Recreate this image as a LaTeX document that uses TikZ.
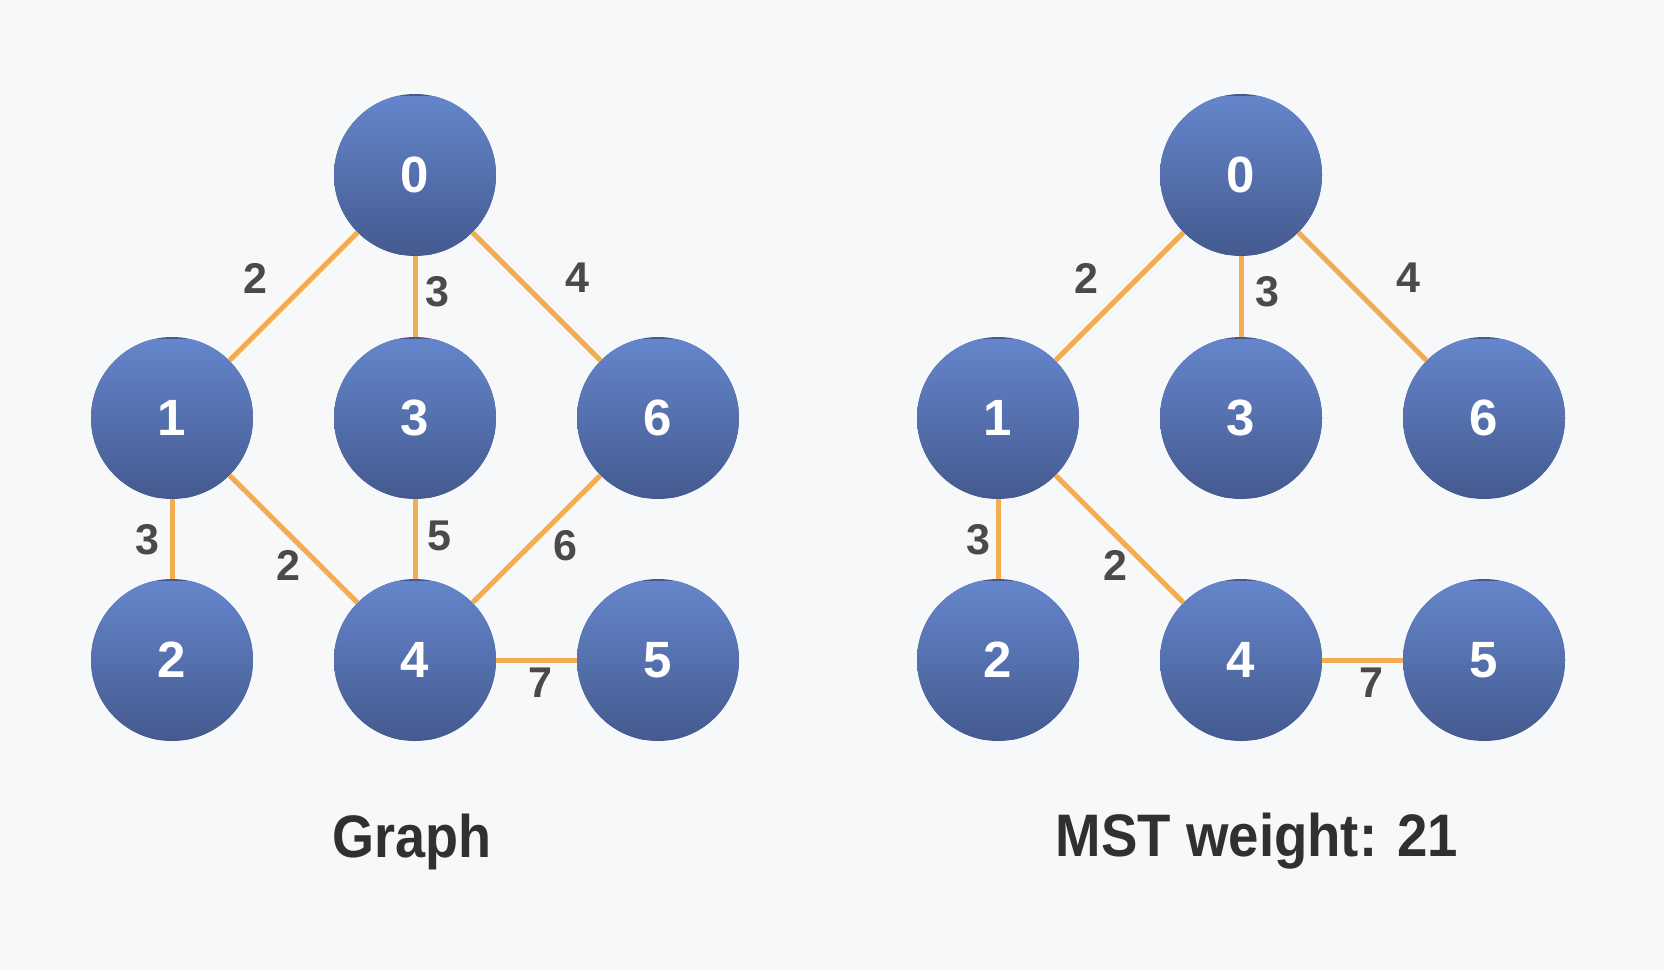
\documentclass[tikz,border=0pt]{standalone}
\usepackage{fontspec}
\setmainfont{Liberation Sans}
\definecolor{bgc}{HTML}{F7F8FA}
\definecolor{ntop}{HTML}{6586CC}
\definecolor{nbot}{HTML}{445A8F}
\definecolor{edgec}{HTML}{F5AC50}
\definecolor{wlab}{HTML}{4A4A4A}
\definecolor{titc}{HTML}{303030}
\tikzset{
  gnode/.style={circle, minimum size=162pt, inner sep=0pt, fill=nbot,
    path picture={\shade[top color=ntop, bottom color=nbot]
      ([shift={(-2pt,2pt)}]path picture bounding box.south west) rectangle
      ([shift={(2pt,-2pt)}]path picture bounding box.north east);},
    text=white, font=\fontsize{51}{60}\selectfont\bfseries},
  gedge/.style={draw=edgec, line width=5pt},
  wlabel/.style={inner sep=0pt, text=wlab, font=\fontsize{43}{50}\selectfont\bfseries},
  ttl/.style={inner sep=0pt, anchor=base, text=titc, font=\fontsize{60}{70}\selectfont\bfseries}
}
\begin{document}
\begin{tikzpicture}[x=1pt,y=-1pt]
\fill[bgc] (0,0) rectangle (1664,970);
\useasboundingbox (0,0) rectangle (1664,970);
% left graph
\node[gnode] (L0) at (415,175) {0};
\node[gnode] (L1) at (172,418) {1};
\node[gnode] (L3) at (415,418) {3};
\node[gnode] (L6) at (658,418) {6};
\node[gnode] (L2) at (172,660) {2};
\node[gnode] (L4) at (415,660) {4};
\node[gnode] (L5) at (658,660) {5};
\draw[gedge] (L0) -- (L1);
\draw[gedge] (L0) -- (L3);
\draw[gedge] (L0) -- (L6);
\draw[gedge] (L1) -- (L2);
\draw[gedge] (L1) -- (L4);
\draw[gedge] (L3) -- (L4);
\draw[gedge] (L6) -- (L4);
\draw[gedge] (L4) -- (L5);
\node[wlabel] (lw01) at (255,278) {2};
\node[wlabel] (lw03) at (437,292) {3};
\node[wlabel] (lw06) at (577,278) {4};
\node[wlabel] (lw12) at (147,540) {3};
\node[wlabel] (lw14) at (288,565) {2};
\node[wlabel] (lw34) at (439,536) {5};
\node[wlabel] (lw64) at (565,546) {6};
\node[wlabel] (lw45) at (540,683) {7};
% right graph
\node[gnode] (R0) at (1241,175) {0};
\node[gnode] (R1) at (998,418) {1};
\node[gnode] (R3) at (1241,418) {3};
\node[gnode] (R6) at (1484,418) {6};
\node[gnode] (R2) at (998,660) {2};
\node[gnode] (R4) at (1241,660) {4};
\node[gnode] (R5) at (1484,660) {5};
\draw[gedge] (R0) -- (R1);
\draw[gedge] (R0) -- (R3);
\draw[gedge] (R0) -- (R6);
\draw[gedge] (R1) -- (R2);
\draw[gedge] (R1) -- (R4);
\draw[gedge] (R4) -- (R5);
\node[wlabel] (rw01) at (1086,278) {2};
\node[wlabel] (rw03) at (1267,292) {3};
\node[wlabel] (rw06) at (1408,278) {4};
\node[wlabel] (rw12) at (978,540) {3};
\node[wlabel] (rw14) at (1115,565) {2};
\node[wlabel] (rw45) at (1371,683) {7};
% titles
\node[ttl] (tl) at (412,857) {\scalebox{0.9}[1]{Graph}};
\node[ttl] (tr) at (1257,856) {\scalebox{0.91}[1]{MST weight: 21}};
\end{tikzpicture}
\end{document}
